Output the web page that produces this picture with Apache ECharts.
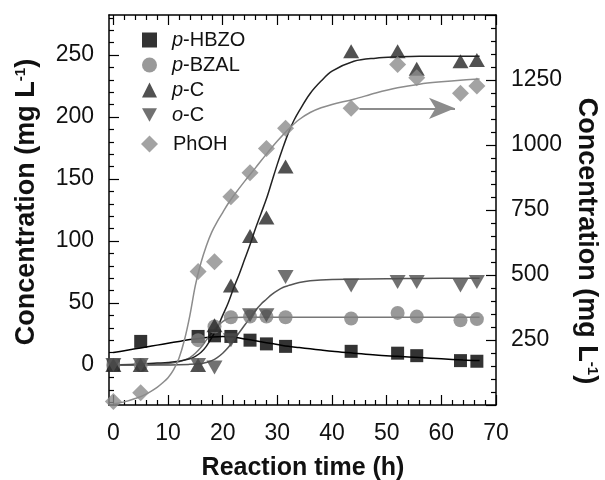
<!DOCTYPE html>
<html>
<head>
<meta charset="utf-8">
<script src="https://cdn.jsdelivr.net/npm/echarts@6/dist/echarts.min.js"></script>
<style>html,body{margin:0;padding:0;background:#fff}#c{width:605px;height:480px}</style>
</head>
<body>
<div id="c"></div>
<script>
// ---- data ----
const time = [0, 5, 15.5, 18.5, 21.5, 25, 28, 31.5, 43.5, 52, 55.5, 63.5, 66.5];
const pHBZO = [0, 19, 23, 23.5, 23, 20, 17, 15, 11, 9.5, 7.5, 3.5, 3];
const pBZAL = [0, 0, 20, 31, 38.5, 39, 39, 38.5, 37.5, 42, 39, 36, 37];
const pC    = [0, 0, 0, 32, 64, 104, 119, 160, 253, 253, 239, 245, 246];
const oC    = [0, 0, 0, -2, 20, 40, 40, 71, 64, 67, 67, 64, 67];
const PhOH  = [13, 47, 513, 551, 801, 893, 987, 1064, 1141, 1310, 1259, 1199, 1227];

// fitted curves: [time, value] pairs
const fitPHBZO = [[0,10],[2,11.5],[4,13],[6,14.5],[8,16],[10,17.5],[12,19],[14,20.5],[16,21.5],[18,22.5],[20,23],[22,22.5],[24,21],[26,19.5],[28,18],[30,16.5],[32,15],[34,14],[36,13],[38,12],[40,11],[44,9.5],[48,8],[52,7],[56,6],[60,5],[64,4],[67,3.5]];
const fitPBZAL = [[0,0],[4,0],[8,0.5],[10,1],[12,2.5],[13,4],[14,6],[15,9.5],[16,14],[17,20],[18,26],[19,31],[20,35],[21,37.5],[22,38.3],[24,38.5],[30,38.5],[40,38.5],[50,38.5],[60,38.5],[67,38.5]];
const fitPC    = [[0,0],[4,0.5],[8,1.5],[10,2],[12,3],[14,5],[15,7],[16,10],[17,15],[18,22],[19,30],[20,40],[21,50],[22,62],[23,73],[24,85],[25,97],[26,110],[27,122],[28,134],[29,148],[30,162],[31,175],[32,187],[33,197],[34,205],[36,219],[38,229],[40,237],[44,245],[48,247.5],[52,248.5],[56,249],[60,249],[67,249]];
const fitOC    = [[0,0],[8,0],[14,0.5],[16,1],[17,2],[18,3.5],[19,6],[20,9.5],[21,14],[22,20],[23,26],[24,32],[25,38],[26,44],[27,49],[28,53],[29,57],[30,60],[31,62.5],[32,64],[34,66.5],[36,68],[40,69],[50,69.5],[60,70],[67,70]];
const fitPhOH  = [[0,5],[2,12],[4,25],[6,42],[8,68],[9,85],[10,105],[11,135],[12,180],[13,250],[14,345],[15,460],[16,545],[17,612],[18,665],[19,705],[20,740],[21,775],[22,805],[24,860],[26,912],[28,965],[30,1015],[32,1060],[34,1098],[36,1125],[38,1143],[40,1156],[44,1176],[48,1200],[52,1220],[56,1234],[60,1243],[64,1250],[67,1254]];

// axis ticks / labels
const xLabels = [0, 10, 20, 30, 40, 50, 60, 70];
const xMinor = [2, 4, 6, 8, 12, 14, 16, 18, 22, 24, 26, 28, 32, 34, 36, 38, 42, 44, 46, 48, 52, 54, 56, 58, 62, 64, 66, 68];
const yLeftLabels = [0, 50, 100, 150, 200, 250];
const yLeftMinor = [-30, -20, -10, 10, 20, 30, 40, 60, 70, 80, 90, 110, 120, 130, 140, 160, 170, 180, 190, 210, 220, 230, 240, 260, 270, 280];
const yRightLabels = [250, 500, 750, 1000, 1250];
const yRightMajor = [0, 250, 500, 750, 1000, 1250, 1500];
const yRightMinor = [50, 100, 150, 200, 300, 350, 400, 450, 550, 600, 650, 700, 800, 850, 900, 950, 1050, 1100, 1150, 1200, 1300, 1350, 1400, 1450];
const arrowFrom = [45, 1141];
const arrowTo = [62.5, 1141];

const FONT = '"Liberation Sans", Arial, Helvetica, sans-serif';
const zip = (xs, ys) => xs.map((x, i) => [x, ys[i]]);

const chart = echarts.init(document.getElementById('c'), null, {renderer: 'canvas'});

const lineStyleAxis = {color: '#000', width: 1.5};
const plain = v => String(v);
function xAx(pos, vals, len, showLine, labels) {
  return {
    type: 'value', min: -0.8, max: 70, position: pos, gridIndex: 0,
    axisLine: {show: showLine, onZero: false, lineStyle: lineStyleAxis},
    axisTick: {show: true, inside: true, length: len, customValues: vals, lineStyle: {color: '#000', width: 1.2}},
    axisLabel: labels ? {show: true, customValues: labels, formatter: plain, fontSize: 23, fontFamily: FONT, color: '#111', margin: 17} : {show: false},
    splitLine: {show: false}
  };
}
function yAx(pos, min, max, vals, len, showLine, labels) {
  return {
    type: 'value', min: min, max: max, position: pos, gridIndex: 0,
    axisLine: {show: showLine, onZero: false, lineStyle: lineStyleAxis},
    axisTick: {show: true, inside: true, length: len, customValues: vals, lineStyle: {color: '#000', width: 1.2}},
    axisLabel: labels ? {show: true, customValues: labels, formatter: plain, fontSize: 23, fontFamily: FONT, color: '#111', margin: 15} : {show: false},
    splitLine: {show: false}
  };
}

const legendText = {
  fontSize: 20, fontFamily: FONT, color: '#111', padding: [0, 0, 0, 10],
  rich: {i: {fontStyle: 'italic', fontSize: 20, fontFamily: FONT, color: '#111'}}
};
const legendFmt = n => n.replace(/^([po])-/, '{i|$1}-');

const downTri = 'path://M0,0 L10,0 L5,9 Z';
const smoothCurve = {type: 'line', smooth: 0.35, showSymbol: false, symbol: 'none', z: 3};

const option = {
  animation: false,
  backgroundColor: '#fff',
  grid: {left: 109, right: 109, top: 15, bottom: 75, containLabel: false},
  legend: [
    {data: ['p-HBZO', 'p-BZAL', 'p-C', 'o-C'], orient: 'vertical', left: 137, top: 25,
     itemWidth: 15, itemHeight: 15, itemGap: 5, textStyle: legendText, formatter: legendFmt},
    {data: ['PhOH'], orient: 'vertical', left: 136, top: 129,
     itemWidth: 17, itemHeight: 17, itemGap: 8, textStyle: legendText, formatter: legendFmt}
  ],
  xAxis: [
    xAx('bottom', xLabels, 10, true, xLabels),
    xAx('bottom', xMinor, 5, false, null),
    xAx('top', xLabels, 10, true, null),
    xAx('top', xMinor, 5, false, null)
  ],
  yAxis: [
    yAx('left', -32.3, 282.3, yLeftLabels, 10, true, yLeftLabels),
    yAx('left', -32.3, 282.3, yLeftMinor, 5, false, null),
    yAx('right', 0, 1500, yRightMajor, 10, true, yRightLabels),
    yAx('right', 0, 1500, yRightMinor, 5, false, null)
  ],
  series: [
    Object.assign({name: 'fit p-HBZO', data: fitPHBZO, lineStyle: {color: '#000', width: 1.5}}, smoothCurve),
    Object.assign({name: 'fit p-BZAL', data: fitPBZAL, lineStyle: {color: '#777', width: 1.5}}, smoothCurve),
    Object.assign({name: 'fit p-C', data: fitPC, lineStyle: {color: '#222', width: 1.5}}, smoothCurve),
    Object.assign({name: 'fit o-C', data: fitOC, lineStyle: {color: '#555', width: 1.5}}, smoothCurve),
    Object.assign({name: 'fit PhOH', yAxisIndex: 2, data: fitPhOH, lineStyle: {color: '#8c8c8c', width: 1.5},
     markLine: {silent: true, symbol: ['none', 'arrow'], symbolSize: [16, 26], label: {show: false},
       lineStyle: {color: '#8c8c8c', width: 2, type: 'solid'},
       data: [[{coord: arrowFrom}, {coord: arrowTo}]]}}, smoothCurve),
    {name: 'p-HBZO', type: 'scatter', data: zip(time, pHBZO), symbol: 'rect', symbolSize: 13, itemStyle: {color: '#000'}, z: 4},
    {name: 'p-BZAL', type: 'scatter', data: zip(time, pBZAL), symbol: 'circle', symbolSize: 14, itemStyle: {color: '#7f7f7f'}, z: 4},
    {name: 'p-C', type: 'scatter', data: zip(time, pC), symbol: 'triangle', symbolSize: [16, 14], itemStyle: {color: '#262626'}, z: 4},
    {name: 'o-C', type: 'scatter', data: zip(time, oC), symbol: downTri, symbolSize: [16, 14], itemStyle: {color: '#4d4d4d'}, z: 4},
    {name: 'PhOH', type: 'scatter', yAxisIndex: 2, data: zip(time, PhOH), symbol: 'diamond', symbolSize: 17, itemStyle: {color: '#8c8c8c'}, z: 4}
  ],
  graphic: [
    {type: 'text', x: 303, y: 468, style: {text: 'Reaction time (h)', font: 'bold 25px ' + FONT, fill: '#111', align: 'center', verticalAlign: 'middle'}},
    {type: 'text', x: 27, y: 202, rotation: Math.PI / 2,
     style: {text: 'Concentration (mg L{sup|-1})', font: 'bold 27px ' + FONT, fill: '#111', align: 'center', verticalAlign: 'middle',
       rich: {sup: {font: 'bold 15px ' + FONT, fill: '#111', verticalAlign: 'top'}}}},
    {type: 'text', x: 586, y: 241, rotation: -Math.PI / 2,
     style: {text: 'Concentration (mg L{sup|-1})', font: 'bold 27px ' + FONT, fill: '#111', align: 'center', verticalAlign: 'middle',
       rich: {sup: {font: 'bold 15px ' + FONT, fill: '#111', verticalAlign: 'top'}}}}
  ]
};
chart.setOption(option);
</script>
</body>
</html>
